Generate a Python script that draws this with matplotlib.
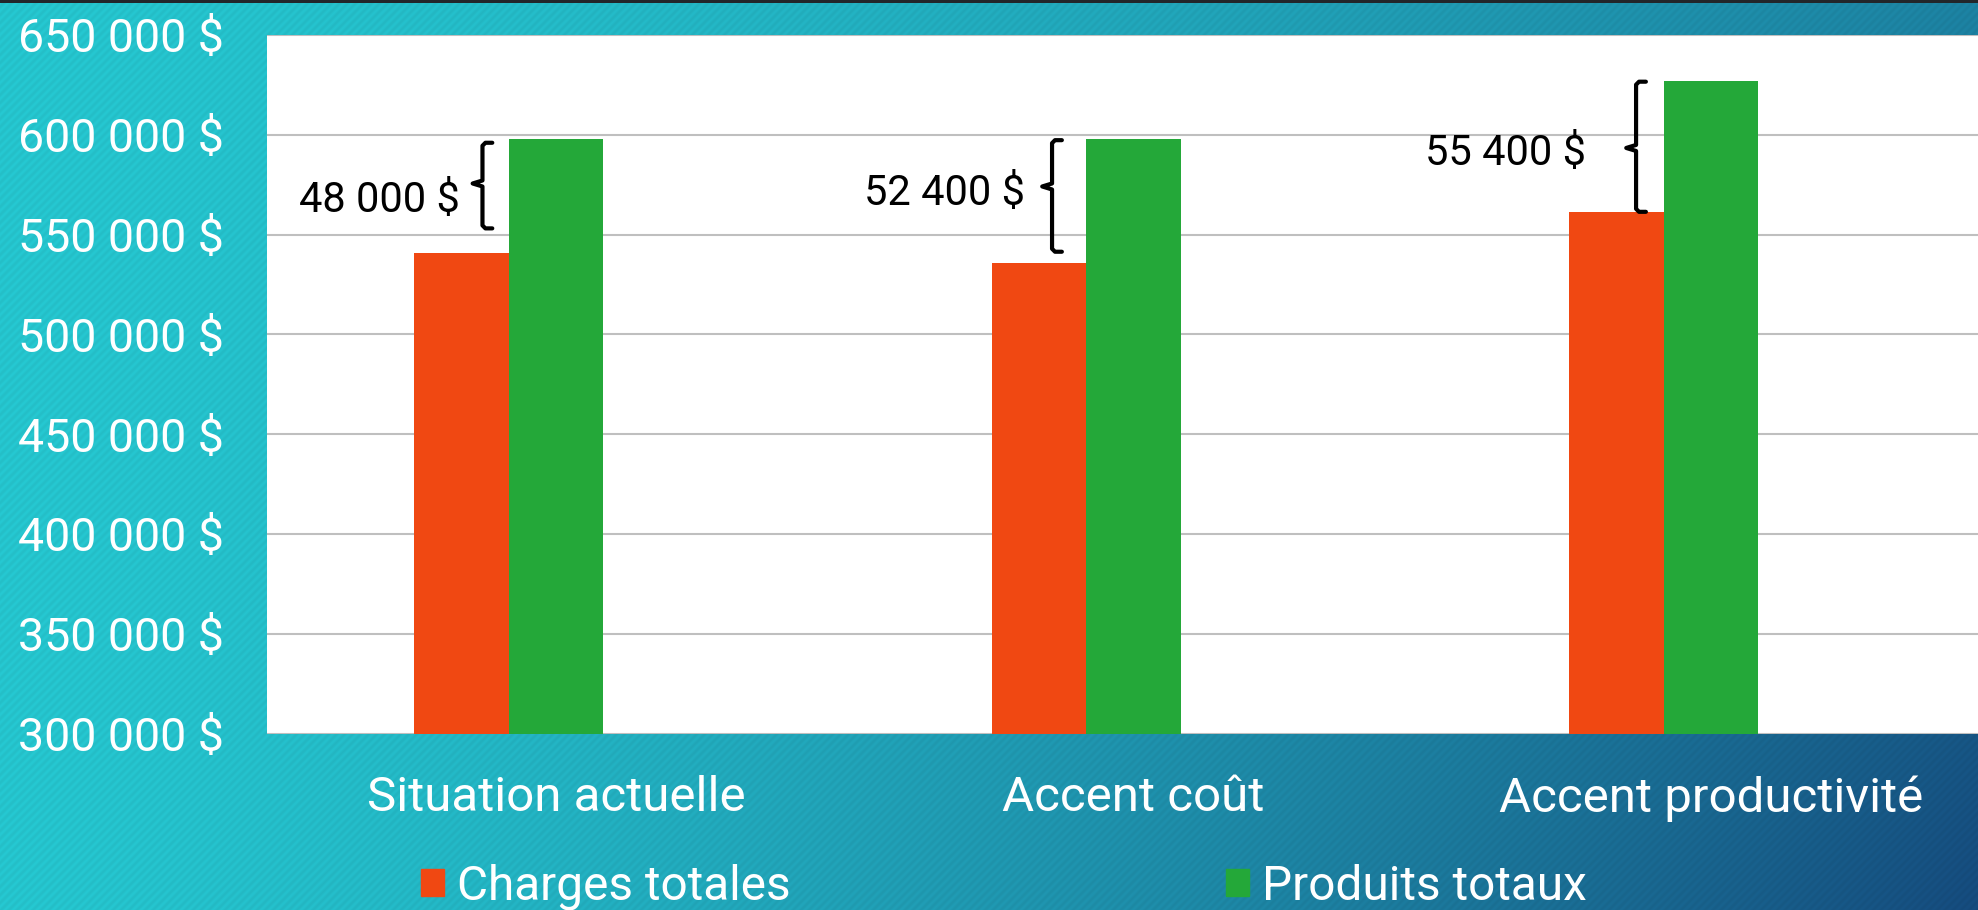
import numpy as np
import matplotlib
matplotlib.use("Agg")
import matplotlib.pyplot as plt
from matplotlib.patches import Patch
from matplotlib.ticker import FuncFormatter

# data
categories = ["Situation actuelle", "Accent coût", "Accent productivité"]
charges = [541000, 536000, 561500]
produits = [598000, 598000, 627000]
series_names = ["Charges totales", "Produits totaux"]
ecart_labels = ["48 000 $", "52 400 $", "55 400 $"]
ecart_label_y = [568800, 572300, 592000]
bracket_top = [596000, 597300, 626600]
bracket_bottom = [553100, 541400, 561400]
bracket_mid = [575600, 574100, 593400]

FONT = "Roboto"
ORANGE = "#f04812"
GREEN = "#24a839"
W, H, DPI = 1978, 910, 100

plt.rcParams["font.family"] = [FONT, "DejaVu Sans"]

fig = plt.figure(figsize=(W / DPI, H / DPI), dpi=DPI)

# gradient background with faint diagonal stripes
bg = fig.add_axes([0, 0, 1, 1], zorder=-10)
yy, xx = np.mgrid[0:H, 0:W]
u = xx / (W - 1)
v = yy / (H - 1)
t = np.clip(u ** 1.4 * (0.55 + 0.45 * v), 0, 1)[..., None]
c0 = np.array([0x25, 0xC4, 0xCD]) / 255
c1 = np.array([0x15, 0x4A, 0x7C]) / 255
img = c0 * (1 - t) + c1 * t
img = img * (1 + 0.025 * np.sin(2 * np.pi * (xx + yy) / 8))[..., None]
img[:3] = np.array([0x22, 0x26, 0x2A]) / 255
bg.imshow(np.clip(img, 0, 1), aspect="auto", interpolation="nearest")
bg.axis("off")

ax = fig.add_axes([267 / W, 1 - 733.5 / H, (2000 - 267) / W, (733.5 - 35) / H])
ax.set_facecolor("white")

x = np.arange(len(categories))
w = 0.1637
ax.bar(x - w, charges, w, color=ORANGE, zorder=3)
ax.bar(x, produits, w, color=GREEN, zorder=3)

ax.set_xlim(-0.5, 2.5)
ax.set_ylim(300000, 650000)
ax.set_yticks(np.arange(300000, 650001, 50000))
ax.yaxis.set_major_formatter(FuncFormatter(lambda val, pos: f"{int(val):,}".replace(",", " ") + " $"))
ax.set_xticks(x)
ax.set_xticklabels(categories)
ax.grid(axis="y", color="#bfbfbf", lw=1.5, zorder=0)
for s in ax.spines.values():
    s.set_visible(False)
ax.tick_params(axis="y", length=0, labelsize=33.5, labelcolor="white", pad=31)
ax.tick_params(axis="x", length=0, labelsize=35.5, labelcolor="white", pad=30)

# braces showing the margin between products and charges
brace_dx = [-0.127, -0.141, -0.130]
serif = 0.017
label_dx = [-0.166, -0.188, -0.217]
for i in range(len(categories)):
    xb = x[i] + brace_dx[i]
    top, bot, mid = bracket_top[i], bracket_bottom[i], bracket_mid[i]
    d = 1500
    px = [xb + serif, xb + serif * 0.3, xb, xb, xb - serif, xb, xb, xb + serif * 0.3, xb + serif]
    py = [top, top, top - d, mid + d, mid, mid - d, bot + d, bot, bot]
    ax.plot(px, py, color="black", lw=3, solid_joinstyle="round", solid_capstyle="round", zorder=4)
    ax.annotate(ecart_labels[i], xy=(x[i] + label_dx[i], ecart_label_y[i]),
                xytext=(0, -10.5), textcoords="offset points", ha="right", va="baseline",
                fontsize=30, color="black", zorder=4)

handles = [Patch(color=ORANGE), Patch(color=GREEN)]
fig.legend(handles, series_names, loc="center left", bbox_to_anchor=(421 / W, 1 - 887 / H),
           ncol=2, frameon=False, fontsize=34.4, labelcolor="white", borderpad=0,
           borderaxespad=0, handlelength=0.49, handleheight=0.49, handletextpad=0.27,
           columnspacing=9.1)

fig.savefig("out.png", dpi=DPI)
